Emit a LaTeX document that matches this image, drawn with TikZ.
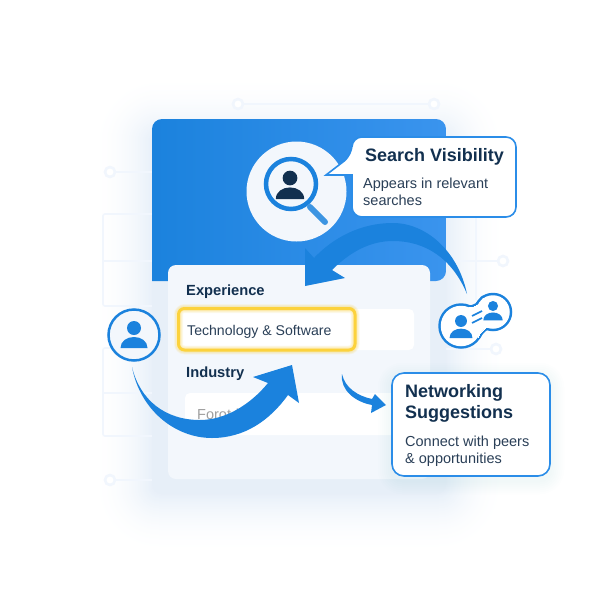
\documentclass[tikz,border=0pt]{standalone}
\usepackage{fontspec}
\usepackage{tikz}
\setmainfont{Liberation Sans}
\usetikzlibrary{positioning}
\definecolor{mblue}{HTML}{1B82DD}
\definecolor{mlight}{HTML}{3A94EE}
\definecolor{mstroke}{HTML}{2B8DE8}
\definecolor{mdark}{HTML}{12304F}
\definecolor{mtext}{HTML}{2A3F57}
\definecolor{mfaint}{HTML}{F1F6FD}
\definecolor{mpanel}{HTML}{E7EFF8}
\definecolor{mcard}{HTML}{F3F7FC}
\definecolor{mglow}{HTML}{E8F0F9}
\definecolor{myellow}{HTML}{FCD23C}
\tikzset{gridline/.style = {draw=mfaint, line width=1.6}}
\tikzset{gridknob/.style = {draw=mfaint, line width=2.6, fill=white}}
\tikzset{heading/.style = {anchor=base west, inner sep=0, text=mdark, font=\bfseries\fontsize{18}{21}\selectfont, align=left}}
\tikzset{body/.style = {anchor=base west, inner sep=0, text=mtext, font=\fontsize{14.5}{17}\selectfont, align=left}}
\tikzset{label/.style = {anchor=base west, inner sep=0, text=mdark, font=\bfseries\fontsize{14.7}{18}\selectfont}}
\tikzset{callout/.style = {draw=mstroke, line width=1.6, fill=white}}
\tikzset{sweep/.style = {fill=mblue}}
\tikzset{person/.pic = {
    \path [pic actions] (0, 0) circle (7);
    \path [pic actions] (-13.5, 20) .. controls (-13.5, 13) and (-7, 9) .. (0, 9)
      .. controls (7, 9) and (13.5, 13) .. (13.5, 20) -- cycle;
  }}
\newcommand{\softglow}[6]{
  \foreach \d in {#5, #6, ..., 1} {
    \pgfmathsetmacro{\tone}{100*(1-\d/#5)^2}
    \fill [mglow!\tone!white, rounded corners=\d+8]
      ({#1-\d}, {#2-\d}) rectangle ({#3+\d}, {#4+\d});
  }}
\begin{document}
\begin{tikzpicture}[x=1pt, y=-1pt]
  \useasboundingbox (0, 0) rectangle (600, 600);
  \fill [white] (0, 0) rectangle (600, 600);
  \softglow{152}{135}{446}{494}{60}{59}

  % faint grid behind the panel
  \draw [gridline] (238, 104) -- (434, 104);
  \draw [gridline] (110, 172) -- (152, 172);
  \draw [gridline] (110, 480) -- (152, 480);
  \draw [gridline, rounded corners=2] (152, 214) -- (103, 214) -- (103, 306) -- (152, 306);
  \draw [gridline] (103, 261) -- (152, 261);
  \draw [gridline, rounded corners=2] (152, 348) -- (103, 348) -- (103, 436) -- (152, 436);
  \draw [gridline] (103, 393) -- (152, 393);
  \draw [gridline] (476, 216) -- (476, 300);
  \draw [gridline] (446, 261) -- (503, 261);
  \draw [gridline] (446, 349) -- (496, 349);
  \draw [gridknob] (238, 104) circle (5);
  \draw [gridknob] (434, 104) circle (5);
  \draw [gridknob] (110, 172) circle (5);
  \draw [gridknob] (110, 480) circle (5);
  \draw [gridknob] (503, 261) circle (5);
  \draw [gridknob] (496, 349) circle (5);

  % panel
  \fill [mpanel, rounded corners=10] (152, 200) rectangle (446, 494);
  \shade [left color=mblue, right color=mlight, rounded corners=10]
    (152, 281) -- (152, 119) -- (446, 119) -- (446, 281) [sharp corners] -- cycle;
  \fill [mcard, rounded corners=8] (168, 265) rectangle (430, 479);

  % fields
  \fill [white, rounded corners=5] (176, 309) rectangle (414, 350);
  \fill [white, rounded corners=5] (185, 393) -- (185, 435) -- (430, 435) -- (430, 393) -- cycle;
  \foreach \d in {1, 2, ..., 6} {
    \draw [myellow, opacity=0.07, line width=3+\d, rounded corners=6] (178.5, 308.5) rectangle (355, 350);
  }
  \draw [myellow, line width=3, rounded corners=6] (178.5, 308.5) rectangle (355, 350);

  \node [label] (experience) at (186, 295) {Experience};
  \node [body, font=\fontsize{14.1}{16}\selectfont] (technology) at (187, 335) {Technology \& Software};
  \node [label] (industry) at (186, 377) {Industry};
  \node [body, text=gray!75] (placeholder) at (197, 419) {Forot-l---r};

  % search badge
  \fill [mcard] (296.5, 191.5) circle (50);
  \draw [mblue, line width=4.5] (291, 184) circle (25);
  \draw [mblue!85!white, line width=6, line cap=round] (310, 207) -- (325, 222);
  \pic [fill=mdark, scale=1.05] at (290, 178) {person};

  % callouts
  \draw [callout, rounded corners=10] (352, 175) -- (352, 217) -- (516, 217) -- (516, 137)
    -- (352, 137) -- (352, 155) [sharp corners] -- (326, 175) -- cycle;
  \fill [white] (351, 158) rectangle (354, 174);
  \node [heading] (searchtitle) at (365, 161) {Search Visibility};
  \node [body] (searchtext) at (363, 205) {Appears in relevant\\searches};

  \foreach \d in {2, 4, ..., 14} {
    \fill [mblue!50, opacity=0.015, rounded corners=10+\d] ({392-\d}, {373-\d+4}) rectangle ({550+\d}, {476+\d+4});
  }
  \node [callout, rounded corners=12, minimum width=158, minimum height=103, inner sep=0]
    (networkbox) at (471, 424.5) {};
  \node [heading] (networktitle) at (405, 418) {Networking\\Suggestions};
  \node [body] (networktext) at (405, 463) {Connect with peers\\\& opportunities};

  % sweeping arrows
  \fill [sweep] (132, 367) .. controls (140, 410) and (175, 438) .. (212, 438)
    .. controls (245, 438) and (270, 420) .. (288, 395)
    -- (299, 403) -- (292, 365) -- (253, 377) -- (268, 383)
    .. controls (250, 405) and (225, 420) .. (200, 420)
    .. controls (165, 420) and (140, 400) .. (132, 367) -- cycle;
  \fill [sweep] (467, 294) .. controls (458, 250) and (425, 223) .. (393, 223)
    .. controls (360, 223) and (333, 238) .. (314, 258)
    -- (305, 248) -- (305, 286) -- (345, 278) -- (332, 270)
    .. controls (350, 252) and (370, 241) .. (393, 241)
    .. controls (425, 241) and (452, 258) .. (467, 294) -- cycle;
  \fill [sweep] (342, 374) .. controls (345, 388) and (358, 396) .. (372, 399)
    -- (375, 394) -- (386, 405) -- (371, 413) -- (372, 405)
    .. controls (355, 402) and (340, 390) .. (342, 374) -- cycle;

  % people
  \draw [mblue, line width=2.5, fill=mcard] (134, 335) circle (25.5);
  \pic [fill=mblue] at (134, 328) {person};

  \foreach \w/\c in {5/mblue, 0/white} {
    \fill [\c] (461, 326) circle ({20.25+\w/2});
    \fill [\c] (493, 312) circle ({16.75+\w/2});
    \path [fill=\c, draw=\c, line width=\w, line join=round] (468, 308) .. controls (474, 308) and (480, 305) .. (483, 298)
      -- (495, 325) .. controls (486, 326) and (481, 331) .. (478, 337) -- cycle;
  }
  \pic [fill=mblue, scale=0.85] at (461, 321) {person};
  \pic [fill=mblue, scale=0.72] at (493, 306) {person};
  \draw [mblue, line width=1.6] (472, 316) -- (482, 311);
  \draw [mblue, line width=1.6] (472, 323) -- (482, 318);
\end{tikzpicture}
\end{document}
